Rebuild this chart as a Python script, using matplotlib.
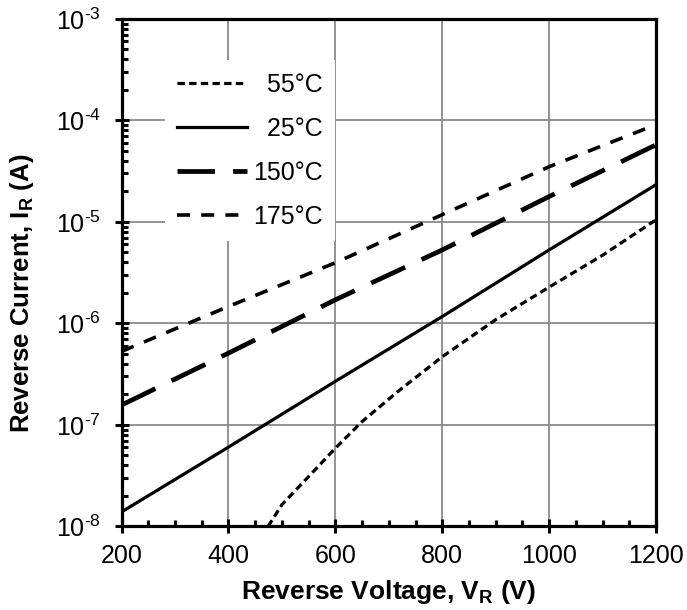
import numpy as np
import matplotlib
matplotlib.use("Agg")
import matplotlib.pyplot as plt
from matplotlib.ticker import MultipleLocator, LogLocator, FuncFormatter, NullFormatter

plt.rcParams['font.family'] = 'Liberation Sans'
plt.rcParams['mathtext.fontset'] = 'custom'
plt.rcParams['mathtext.rm'] = 'Liberation Sans'
plt.rcParams['mathtext.it'] = 'Liberation Sans:italic'
plt.rcParams['mathtext.bf'] = 'Liberation Sans:bold'
plt.rcParams['lines.scale_dashes'] = False

# reverse voltage (V) and reverse current (A)
v_55 = [474, 500, 550, 600, 650, 720, 800, 900, 1000, 1100, 1200]
i_55 = [1.0e-8, 1.64e-8, 3.1e-8, 5.9e-8, 1.08e-7, 2.2e-7, 4.7e-7, 1.09e-6, 2.28e-6, 4.7e-6, 1.05e-5]

v_hot = [200, 400, 600, 800, 1000, 1200]
i_25 = [1.39e-8, 6.05e-8, 2.69e-7, 1.17e-6, 5.3e-6, 2.33e-5]
i_150 = [1.57e-7, 5.1e-7, 1.71e-6, 5.3e-6, 1.78e-5, 5.75e-5]
i_175 = [5.3e-7, 1.47e-6, 3.96e-6, 1.18e-5, 3.5e-5, 9.1e-5]

# leading spaces push the shorter labels right so the column lines up on the right
labels = ['  55°C', '  25°C', '150°C', '175°C']

fig = plt.figure(figsize=(6.87, 6.10), dpi=100)
ax = fig.add_axes([0.177, 0.137, 0.778, 0.832])

ax.plot(v_55, i_55, color='black', lw=2.3, linestyle=(0, (5.3, 3.1)), label=labels[0])
ax.plot(v_hot, i_25, color='black', lw=2.3, linestyle='-', label=labels[1])
ax.plot(v_hot, i_150, color='black', lw=3.4, linestyle=(0, (27, 13)), label=labels[2])
ax.plot(v_hot, i_175, color='black', lw=2.6, linestyle=(0, (9.4, 8)), label=labels[3])

ax.set_yscale('log')
ax.set_xlim(200, 1200)
ax.set_ylim(1e-8, 1e-3)

ax.xaxis.set_major_locator(MultipleLocator(200))
ax.xaxis.set_minor_locator(MultipleLocator(50))
ax.yaxis.set_major_locator(LogLocator(base=10, numticks=10))
ax.yaxis.set_minor_locator(LogLocator(base=10, subs=np.arange(2, 10), numticks=20))
ax.yaxis.set_minor_formatter(NullFormatter())
ax.yaxis.set_major_formatter(
    FuncFormatter(lambda y, pos: '10$^{\\text{-%d}}$' % abs(round(np.log10(y)))))

ax.grid(True, which='major', color='#8a8a8a', lw=1.3)
ax.set_axisbelow(True)

for s in ax.spines.values():
    s.set_linewidth(2.3)

ax.tick_params(axis='x', which='major', direction='inout', length=9.4, width=2.2, labelsize=18, pad=8)
ax.tick_params(axis='x', which='minor', direction='in', length=4, width=2.2)
ax.tick_params(axis='y', which='major', direction='inout', length=9.4, width=2.2, labelsize=18, pad=10)
ax.tick_params(axis='y', which='minor', direction='in', length=4.5, width=2.2)

ax.set_xlabel('Reverse Voltage, $\\mathbf{V_R}$ (V)', fontsize=19, fontweight='bold', labelpad=7)
ax.set_ylabel('Reverse Current, $\\mathbf{I_R}$ (A)', fontsize=18.5, fontweight='bold')
ax.yaxis.set_label_coords(-0.16, 0.46)

leg = ax.legend(loc='upper left', bbox_to_anchor=(0.081, 0.919), fontsize=18,
                frameon=True, facecolor='white', edgecolor='none', framealpha=1,
                fancybox=False, handlelength=2.8, handletextpad=0.22,
                labelspacing=0.8, borderpad=0.5, borderaxespad=0)

fig.savefig('out.png', dpi=100)
